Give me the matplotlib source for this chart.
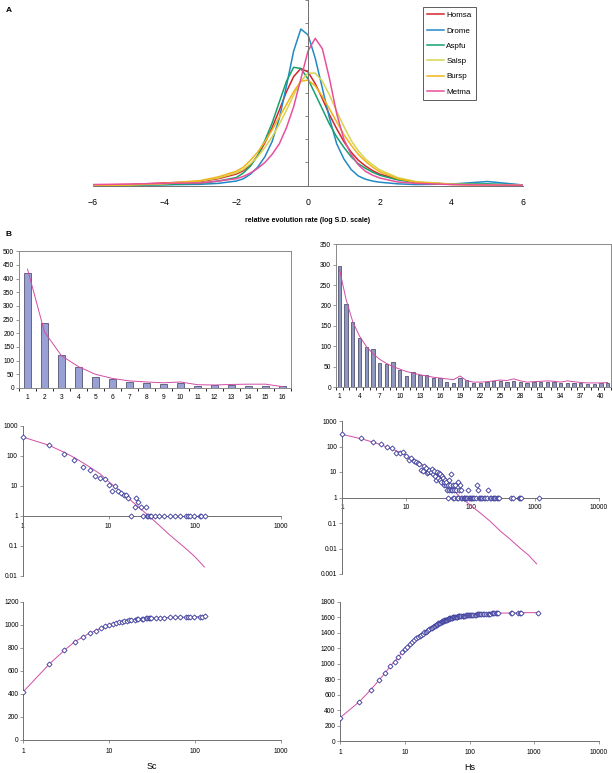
import matplotlib
matplotlib.use("Agg")
import matplotlib.pyplot as plt
import numpy as np

plt.rcParams['font.family'] = ['Liberation Sans', 'DejaVu Sans']

# ---------------- panel A : density curves ----------------
rate_x = [-6, -5, -4, -3, -2.5, -2.0, -1.8, -1.6, -1.4, -1.2, -1.0, -0.8, -0.6, -0.4, -0.2, 0.0,
          0.2, 0.4, 0.6, 0.8, 1.0, 1.2, 1.4, 1.6, 1.8, 2.0, 2.5, 3, 4, 5, 6]
homsa = [0.03, 0.05, 0.12, 0.18, 0.3, 0.5, 0.65, 0.9, 1.3, 1.85, 2.5, 3.25, 4.05, 4.7, 5.05, 4.9,
         4.4, 3.75, 3.05, 2.45, 1.9, 1.45, 1.1, 0.85, 0.65, 0.5, 0.28, 0.15, 0.06, 0.04, 0.02]
drome = [0.0, 0.02, 0.04, 0.06, 0.1, 0.2, 0.3, 0.5, 0.8, 1.25, 1.9, 2.9, 4.3, 5.8, 6.75, 6.5,
         5.5, 4.2, 2.9, 1.8, 1.15, 0.7, 0.42, 0.28, 0.2, 0.15, 0.08, 0.05, 0.07, 0.18, 0.03]
aspfu = [0.0, 0.02, 0.05, 0.1, 0.2, 0.35, 0.55, 0.85, 1.3, 1.95, 2.7, 3.6, 4.5, 5.1, 5.05, 4.6,
         3.95, 3.3, 2.65, 2.1, 1.65, 1.25, 0.95, 0.75, 0.58, 0.45, 0.25, 0.14, 0.07, 0.08, 0.03]
salsp = [0.01, 0.03, 0.08, 0.2, 0.33, 0.55, 0.7, 0.95, 1.25, 1.65, 2.1, 2.65, 3.25, 3.9, 4.5, 4.85,
         4.85, 4.5, 3.9, 3.2, 2.55, 1.95, 1.5, 1.15, 0.9, 0.68, 0.35, 0.18, 0.07, 0.04, 0.02]
bursp = [0.01, 0.04, 0.1, 0.22, 0.38, 0.62, 0.8, 1.1, 1.45, 1.9, 2.4, 2.95, 3.5, 4.05, 4.5, 4.55,
         4.3, 3.85, 3.3, 2.75, 2.2, 1.75, 1.35, 1.05, 0.8, 0.6, 0.3, 0.15, 0.05, 0.02, 0.01]
metma = [0.05, 0.07, 0.1, 0.12, 0.2, 0.3, 0.4, 0.55, 0.75, 1.0, 1.35, 1.8, 2.5, 3.4, 4.6, 5.8,
         6.35, 5.9, 4.6, 3.1, 2.0, 1.35, 0.9, 0.62, 0.45, 0.33, 0.16, 0.1, 0.05, 0.03, 0.02]
species = ['Homsa', 'Drome', 'Aspfu', 'Salsp', 'Bursp', 'Metma']
species_colors = ['#d2262c', '#2389c4', '#17a06e', '#d8d450', '#f0b41c', '#e8509c']

# ---------------- panel B : Sc (left) ----------------
sc_bar_cat = list(range(1, 17))
sc_bar_val = [420, 238, 120, 76, 42, 33, 21, 18, 14, 19, 8, 12, 11, 7, 7, 7]
sc_bar_fit = [435, 205, 118, 78, 50, 35, 26, 22, 19, 22, 12, 11, 13, 14, 14, 5]

sc_size = [1, 2, 3, 4, 5, 6, 7, 8, 9, 10, 11, 12, 13, 14, 15, 16, 17, 18, 20, 21, 22, 24, 25, 27, 28,
           29, 30, 31, 35, 39, 44, 52, 59, 68, 79, 84, 88, 99, 115, 120, 131]
sc_count = [420, 238, 120, 76, 42, 33, 21, 18, 17, 11, 7, 10, 7, 6, 5, 5, 4, 1, 2, 4, 3, 2, 1, 2, 1,
            1, 1, 1, 1, 1, 1, 1, 1, 1, 1, 1, 1, 1, 1, 1, 1]
sc_fit_x = [1, 2, 3, 4, 5, 6, 8, 10, 13, 16, 20, 25, 30, 40, 50, 60, 80, 100, 130]
sc_fit_y = [430, 230, 135, 88, 60, 43, 25, 14, 7.5, 4.5, 2.6, 1.5, 0.95, 0.45, 0.25, 0.16, 0.08, 0.045, 0.02]

# ---------------- panel B : Hs (right) ----------------
hs_bar_cat = list(range(1, 42))
hs_bar_val = [298, 204, 160, 120, 97, 93, 58, 57, 61, 42, 28, 36, 30, 29, 23, 22, 13, 11, 21, 17,
              10, 10, 13, 14, 15, 13, 15, 13, 10, 13, 12, 13, 13, 9, 10, 11, 10, 8, 8, 9, 9]
hs_bar_fit = [290, 215, 160, 125, 100, 82, 68, 58, 50, 44, 38, 34, 30, 27, 24, 22, 20, 18, 27, 15,
              12, 12, 13, 15, 17, 16, 20, 15, 12, 13, 14, 15, 14, 12, 15, 13, 11, 10, 10, 10, 11]

hs_size = list(range(1, 42)) + [42, 43, 44, 45, 46, 47, 48, 49, 50, 52, 53, 54, 55, 56, 58, 60, 61, 63,
                                65, 66, 68, 70, 72, 75, 78, 80, 83, 85, 88, 90, 95, 98, 100, 105, 110,
                                115, 120, 125, 130, 135, 140, 145, 150, 160, 170, 180, 190, 200, 210,
                                220, 230, 240, 255, 270, 280, 430, 460, 560, 600, 620, 1150]
hs_count = [300, 209, 155, 121, 95, 90, 57, 57, 62, 43, 30, 35, 28, 25, 22, 20, 12, 11, 17, 14,
            9, 10, 12, 10, 13, 8, 11, 7, 5, 10, 6, 9, 8, 5, 4, 7, 6, 3, 4, 5, 3] + \
           [4, 2, 3, 1, 5, 2, 3, 8, 2, 2, 1, 3, 2, 1, 3, 2, 1, 4,
            1, 2, 3, 1, 2, 1, 1, 1, 1, 1, 1, 2, 1, 1, 1, 1, 1,
            1, 1, 3, 2, 1, 1, 1, 1, 1, 1, 1, 2, 1, 1,
            1, 1, 1, 1, 1, 1, 1, 1, 1, 1, 1, 1]
hs_fit_x = [1, 2, 3, 4, 5, 7, 10, 15, 20, 30, 40, 50, 70, 100, 150, 200, 300, 400, 600, 800, 1070]
hs_fit_y = [300, 200, 150, 118, 95, 68, 45, 25, 16, 7.5, 4, 2.4, 1.0, 0.5, 0.22, 0.12, 0.045,
            0.025, 0.01, 0.0055, 0.0025]

W, H = 612, 773
fig = plt.figure(figsize=(W / 100, H / 100), dpi=100)
PINK = '#d24ca6'
DOT = '#34349a'
GREY = '#707070'


def px_ax(x0, y0, x1, y1):
    return fig.add_axes([x0 / W, 1 - y1 / H, (x1 - x0) / W, (y1 - y0) / H])


# ---- A ----
ax = px_ax(92.6, 0, 523.4, 185.7)
series = [homsa, drome, aspfu, salsp, bursp, metma]
for name, ys, col in zip(species, series, species_colors):
    ax.plot(rate_x, ys, color=col, lw=1.1, label=name)
ax.set_xlim(-6, 6)
ax.set_ylim(0, 8)
ax.spines[['top', 'right']].set_visible(False)
ax.spines['left'].set_position(('data', 0))
for s in ('left', 'bottom'):
    ax.spines[s].set_color(GREY)
    ax.spines[s].set_linewidth(0.7)
ax.set_yticks(range(0, 9))
ax.set_yticklabels([])
ax.set_xticks(range(-6, 7, 2))
ax.tick_params(axis='y', length=2.5, width=0.6, color=GREY)
ax.tick_params(axis='x', length=0, labelsize=6.3, pad=9)
ax.set_xlabel('relative evolution rate (log S.D. scale)', fontsize=5, fontweight='bold', labelpad=7)
leg = ax.legend(loc='upper left', bbox_to_anchor=(0.767, 0.961), fontsize=5.8, frameon=True,
                fancybox=False, handlelength=2.0, handletextpad=0.35, labelspacing=0.95,
                borderpad=0.55, borderaxespad=0)
leg.get_frame().set_edgecolor('#333333')
leg.get_frame().set_linewidth(0.7)
fig.text(6 / W, 1 - 11 / H, 'A', fontsize=6, fontweight='bold', va='center')
fig.text(5 / W, 1 - 234 / H, 'B', fontsize=6, fontweight='bold', va='center')


def bar_panel(ax, cats, vals, fit, ymax, labels_at, width, color):
    ax.bar(cats, vals, width=width, color=color, edgecolor='#3c3c5a', linewidth=0.5, zorder=2)
    ax.plot(cats, fit, color=PINK, lw=0.7, zorder=3)
    ax.set_xlim(0.5, len(cats) + 0.5)
    ax.set_ylim(0, ymax)
    ax.set_yticks(range(0, ymax + 1, 50))
    ax.set_xticks(labels_at)
    ax.set_xticks(np.arange(0.5, len(cats) + 1), minor=True)
    for s in ax.spines.values():
        s.set_color('#8a8a8a')
        s.set_linewidth(0.7)
    ax.tick_params(axis='both', labelsize=4.8, color=GREY, width=0.5)
    ax.tick_params(axis='x', which='major', length=0, pad=4)
    ax.tick_params(axis='x', which='minor', length=2)
    ax.tick_params(axis='y', length=2, pad=1.5)


ax = px_ax(19, 251.3, 291, 388)
bar_panel(ax, sc_bar_cat, sc_bar_val, sc_bar_fit, 500, sc_bar_cat, 0.4, '#98a0d4')

ax = px_ax(336, 244.3, 611, 387)
bar_panel(ax, hs_bar_cat, hs_bar_val, hs_bar_fit, 350, list(range(1, 42, 3)), 0.5, '#9097bf')


def loglog_panel(ax, xs, ys, fx, fy, xmax, ymin, yticks, ylabels, xticks, xlabels):
    ax.plot(fx, fy, color=PINK, lw=0.7, zorder=2)
    ax.plot(xs, ys, 'D', ms=2.6, mfc='white', mec=DOT, mew=0.6, ls='none', zorder=3, clip_on=False)
    ax.set_xscale('log')
    ax.set_yscale('log')
    ax.set_xlim(1, xmax)
    ax.set_ylim(ymin, 1000)
    ax.spines[['top', 'right']].set_visible(False)
    ax.spines['bottom'].set_position(('data', 1))
    for s in ('left', 'bottom'):
        ax.spines[s].set_color(GREY)
        ax.spines[s].set_linewidth(0.7)
    ax.set_yticks(yticks)
    ax.set_yticklabels(ylabels)
    ax.set_xticks(xticks)
    ax.set_xticklabels(xlabels)
    ax.minorticks_off()
    ax.tick_params(axis='both', labelsize=4.8, length=2, width=0.5, color=GREY, pad=1.5)
    ax.tick_params(axis='x', pad=3)


ax = px_ax(22.7, 426, 280.5, 576)
loglog_panel(ax, sc_size, sc_count, sc_fit_x, sc_fit_y, 1000, 0.01,
             [0.01, 0.1, 1, 10, 100, 1000], ['0.01', '0.1', '1', '10', '100', '1000'],
             [1, 10, 100, 1000], ['1', '10', '100', '1000'])

ax = px_ax(342, 421, 599, 574)
loglog_panel(ax, hs_size, hs_count, hs_fit_x, hs_fit_y, 10000, 0.001,
             [0.001, 0.01, 0.1, 1, 10, 100, 1000], ['0.001', '0.01', '0.1', '1', '10', '100', '1000'],
             [1, 10, 100, 1000, 10000], ['1', '10', '100', '1000', '10000'])


def cumul_panel(ax, xs, ys, xmax, ymax, xticks, xlabels, name):
    cum = np.cumsum(ys)
    ax.plot(xs, cum, color=PINK, lw=0.7, zorder=2)
    ax.plot(xs, cum, 'D', ms=2.6, mfc='white', mec=DOT, mew=0.6, ls='none', zorder=3)
    ax.set_xscale('log')
    ax.set_xlim(1, xmax)
    ax.set_ylim(0, ymax)
    ax.set_yticks(range(0, ymax + 1, 200))
    ax.set_xticks(xticks)
    ax.set_xticklabels(xlabels)
    ax.minorticks_off()
    ax.spines[['top', 'right']].set_visible(False)
    for s in ('left', 'bottom'):
        ax.spines[s].set_color(GREY)
        ax.spines[s].set_linewidth(0.7)
    ax.tick_params(axis='both', labelsize=4.8, length=2, width=0.5, color=GREY, pad=1.5)
    ax.tick_params(axis='x', pad=4)
    ax.set_xlabel(name, fontsize=6.5, labelpad=5)


ax = px_ax(23.4, 601.7, 280.5, 740)
cumul_panel(ax, sc_size, sc_count, 1000, 1200, [1, 10, 100, 1000], ['1', '10', '100', '1000'], 'Sc')

ax = px_ax(340, 601.7, 599, 741)
cumul_panel(ax, hs_size, hs_count, 10000, 1800, [1, 10, 100, 1000, 10000],
            ['1', '10', '100', '1000', '10000'], 'Hs')

fig.savefig('out.png', dpi=100)
